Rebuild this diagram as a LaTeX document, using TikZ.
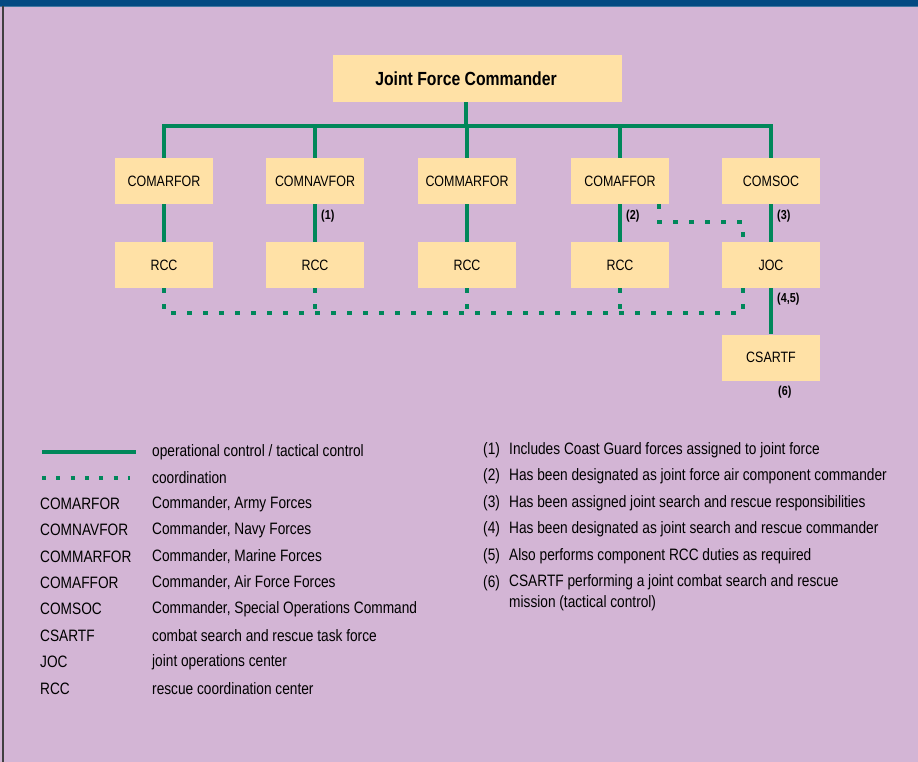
\documentclass[tikz,border=0pt]{standalone}
\usepackage{fontspec}
\setmainfont{Liberation Sans}[FakeStretch=0.83]
\definecolor{bgpurple}{HTML}{D3B5D5}
\definecolor{boxyellow}{HTML}{FFE1A6}
\definecolor{ctrlgreen}{HTML}{00875A}
\definecolor{barblue}{HTML}{034A82}

\begin{document}
\begin{tikzpicture}[x=1pt,y=-1pt]
\def \rowa {181}
\def \rowb {265}
\tikzset{BoxStyle/.style = {fill = boxyellow, minimum width = 98pt, minimum height = 46pt, inner sep = 0pt, font = \fontsize{15}{18}\selectfont}}
\tikzset{CtrlStyle/.style = {ctrlgreen, line width = 4pt}}
\tikzset{CoordStyle/.style = {ctrlgreen, line width = 4pt, dash pattern = on 4.5pt off 11.5pt}}
\tikzset{NoteStyle/.style = {anchor = west, inner sep = 0pt, font = \bfseries\fontsize{13}{14}\selectfont}}
\tikzset{KeyStyle/.style = {anchor = west, inner sep = 0pt, font = \fontsize{16.5}{21.5}\selectfont}}

\useasboundingbox (0,0) rectangle (918,762);
\fill[bgpurple] (0,0) rectangle (918,762);
\fill[barblue] (0,0) rectangle (918,6);
\draw[barblue!75!white, line width = 1pt] (0,6.5) -- (918,6.5);
\draw[black!75, line width = 1.5pt] (3,6) -- (3,762);

% boxes
\node[BoxStyle, minimum width = 289pt, minimum height = 47pt] (JFC) at (477.5,78.5) {};
\node[inner sep = 0pt, font = \bfseries\fontsize{19}{22}\selectfont] (JFCtxt) at (466,78.5) {Joint Force Commander};
\node[BoxStyle] (ARF) at (164,\rowa) {COMARFOR};
\node[BoxStyle] (NAV) at (315,\rowa) {COMNAVFOR};
\node[BoxStyle] (MAR) at (467,\rowa) {COMMARFOR};
\node[BoxStyle] (AFF) at (620,\rowa) {COMAFFOR};
\node[BoxStyle] (SOC) at (771,\rowa) {COMSOC};
\node[BoxStyle] (R1) at (164,\rowb) {RCC};
\node[BoxStyle] (R2) at (315,\rowb) {RCC};
\node[BoxStyle] (R3) at (467,\rowb) {RCC};
\node[BoxStyle] (R4) at (620,\rowb) {RCC};
\node[BoxStyle] (JOC) at (771,\rowb) {JOC};
\node[BoxStyle] (CSAR) at (771,357.5) {CSARTF};

% control lines
\coordinate (bus) at (466,126);
\draw[CtrlStyle] (JFCtxt |- JFC.south) -- (bus);
\draw[CtrlStyle] (ARF.north) |- (bus) -| (SOC.north);
\draw[CtrlStyle] (NAV.north) -- (NAV.north |- bus);
\draw[CtrlStyle] (MAR.north) -- (MAR.north |- bus);
\draw[CtrlStyle] (AFF.north) -- (AFF.north |- bus);
\draw[CtrlStyle] (ARF) -- (R1);
\draw[CtrlStyle] (NAV) -- (R2);
\draw[CtrlStyle] (MAR) -- (R3);
\draw[CtrlStyle] (AFF) -- (R4);
\draw[CtrlStyle] (SOC) -- (JOC);
\draw[CtrlStyle] (JOC) -- (CSAR);

% coordination lines
\coordinate (jc) at (743,313);
\coordinate (ac) at (743,222);
\draw[CoordStyle] (R1.south) |- (jc) -- (jc |- JOC.south);
\draw[CoordStyle] (R2.south) -- (R2.south |- jc);
\draw[CoordStyle] (R3.south) -- (R3.south |- jc);
\draw[CoordStyle] (R4.south) -- (R4.south |- jc);
\draw[CoordStyle] (AFF.south east) ++(-10,0) coordinate (af) -- (af |- ac) -- (ac) -- (ac |- JOC.north);

% notes
\node[NoteStyle] (n1) at (321,216) {(1)};
\node[NoteStyle] (n2) at (626,216) {(2)};
\node[NoteStyle] (n3) at (777,216) {(3)};
\node[NoteStyle] (n45) at (777,299) {(4,5)};
\node[NoteStyle] (n6) at (778,392) {(6)};

% legend
\coordinate (ls1) at (42,452);
\coordinate (le1) at (136,452);
\coordinate (ls2) at (42,478);
\coordinate (le2) at (130,478);
\draw[CtrlStyle, line width = 3.5pt] (ls1) -- (le1);
\draw[ctrlgreen, line width = 3.5pt, dash pattern = on 4pt off 10.3pt] (ls2) -- (le2);
\node[KeyStyle] (k1) at (152,452) {operational control / tactical control};
\node[KeyStyle] (k2) at (152,478) {coordination};
\node[KeyStyle] (a3) at (40,504) {COMARFOR};
\node[KeyStyle] (k3) at (152,504) {Commander, Army Forces};
\node[KeyStyle] (a4) at (40,530) {COMNAVFOR};
\node[KeyStyle] (k4) at (152,530) {Commander, Navy Forces};
\node[KeyStyle] (a5) at (40,557) {COMMARFOR};
\node[KeyStyle] (k5) at (152,557) {Commander, Marine Forces};
\node[KeyStyle] (a6) at (40,583) {COMAFFOR};
\node[KeyStyle] (k6) at (152,583) {Commander, Air Force Forces};
\node[KeyStyle] (a7) at (40,609) {COMSOC};
\node[KeyStyle] (k7) at (152,609) {Commander, Special Operations Command};
\node[KeyStyle] (a8) at (40,636) {CSARTF};
\node[KeyStyle] (k8) at (152,636) {combat search and rescue task force};
\node[KeyStyle] (a9) at (40,662) {JOC};
\node[KeyStyle] (k9) at (152,662) {joint operations center};
\node[KeyStyle] (a10) at (40,689) {RCC};
\node[KeyStyle] (k10) at (152,689) {rescue coordination center};

\node[KeyStyle] (f1) at (483,450) {(1)};
\node[KeyStyle] (t1) at (509,450) {Includes Coast Guard forces assigned to joint force};
\node[KeyStyle] (f2) at (483,476) {(2)};
\node[KeyStyle] (t2) at (509,476) {Has been designated as joint force air component commander};
\node[KeyStyle] (f3) at (483,503) {(3)};
\node[KeyStyle] (t3) at (509,503) {Has been assigned joint search and rescue responsibilities};
\node[KeyStyle] (f4) at (483,529) {(4)};
\node[KeyStyle] (t4) at (509,529) {Has been designated as joint search and rescue commander};
\node[KeyStyle] (f5) at (483,556) {(5)};
\node[KeyStyle] (t5) at (509,556) {Also performs component RCC duties as required};
\node[KeyStyle] (f6) at (483,583) {(6)};
\node[KeyStyle, anchor = north west, align = left] (t6) at (509,574) {CSARTF performing a joint combat search and rescue\\mission (tactical control)};

\end{tikzpicture}
\end{document}
